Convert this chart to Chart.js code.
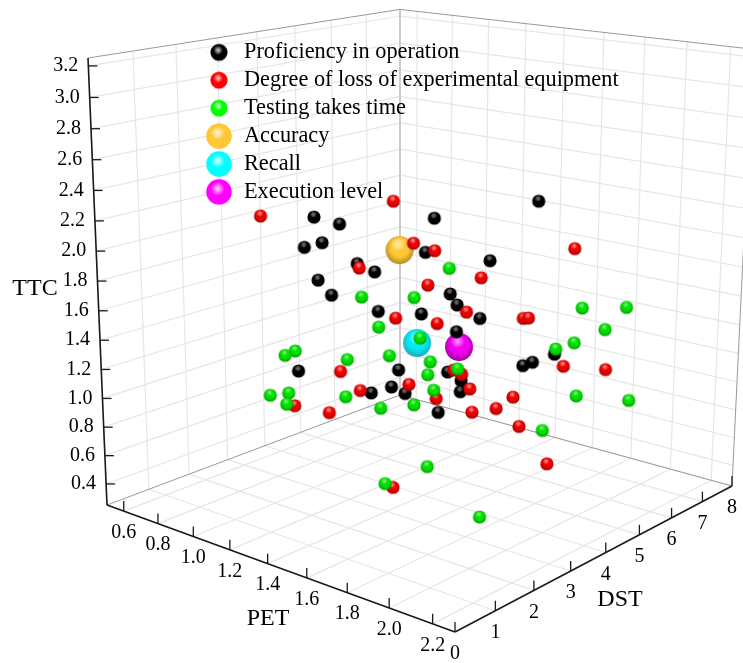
<!DOCTYPE html>
<html>
<head>
<meta charset="utf-8">
<title>3D scatter</title>
<script src="https://cdn.jsdelivr.net/npm/chart.js@4"></script>
<style>
body { margin: 0; background: #fff; }
canvas { display: block; }
</style>
</head>
<body>
<canvas id="chart" width="743" height="663"></canvas>
<script>
// values
const petTicks = ['0.6', '0.8', '1.0', '1.2', '1.4', '1.6', '1.8', '2.0', '2.2'];
const dstTicks = ['0', '1', '2', '3', '4', '5', '6', '7', '8'];
const ttcTicks = ['0.4', '0.6', '0.8', '1.0', '1.2', '1.4', '1.6', '1.8', '2.0', '2.2', '2.4', '2.6', '2.8', '3.0', '3.2'];

const seriesNames = ['Proficiency in operation', 'Degree of loss of experimental equipment', 'Testing takes time', 'Accuracy', 'Recall', 'Execution level'];

const proficiencyPet = [1.17, 1.22, 1.01, 1.19, 1.47, 1.82, 1.35, 1.57, 1.29, 1.32, 1.04, 1.07, 1.12, 1.46, 1.66, 1.33, 1.70, 1.53, 0.99, 1.19, 1.23, 1.30, 1.36, 1.56, 1.61, 1.57, 1.42, 1.67, 1.69, 1.73];
const proficiencyDst = [2.3, 2.7, 2.8, 2.4, 3.9, 4.8, 4.3, 4.9, 2.8, 3.1, 3.0, 3.2, 4.2, 4.4, 3.5, 4.3, 3.9, 4.2, 2.7, 4.4, 4.0, 3.1, 3.7, 3.8, 3.9, 4.1, 4.3, 5.6, 5.2, 5.9];
const proficiencyTtc = [2.24, 2.18, 1.96, 2.07, 2.20, 2.34, 1.91, 1.87, 1.93, 1.86, 1.73, 1.62, 1.44, 1.65, 1.71, 1.48, 1.60, 1.43, 1.11, 1.03, 0.96, 1.03, 0.99, 1.20, 1.15, 1.04, 0.82, 1.14, 1.16, 1.19];

const lossPet = [0.86, 1.26, 1.25, 1.51, 1.93, 1.28, 1.58, 1.42, 1.67, 1.33, 1.58, 1.79, 1.68, 1.26, 1.08, 1.14, 1.24, 1.61, 1.54, 1.38, 1.54, 1.51, 1.78, 1.63, 1.75, 1.71, 1.84, 1.95, 2.00, 1.53];
const lossDst = [2.4, 3.9, 4.5, 3.7, 5.2, 2.9, 4.6, 4.0, 3.7, 3.6, 3.4, 4.6, 5.4, 2.5, 3.9, 1.9, 2.3, 3.7, 4.3, 3.7, 3.6, 4.7, 4.4, 4.1, 4.1, 5.0, 5.5, 6.1, 4.1, 2.5];
const lossTtc = [2.16, 2.26, 1.93, 2.01, 2.03, 1.89, 1.78, 1.73, 1.65, 1.51, 1.57, 1.57, 1.47, 1.22, 0.89, 1.00, 0.95, 1.24, 1.13, 1.06, 1.03, 0.98, 1.05, 0.92, 0.99, 0.76, 1.18, 1.14, 0.71, 0.53];

const testingPet = [1.62, 1.33, 1.11, 1.36, 1.40, 1.06, 1.07, 1.05, 1.16, 0.94, 0.89, 1.04, 1.14, 1.29, 1.34, 1.44, 1.61, 1.49, 1.33, 1.94, 1.95, 1.88, 1.97, 1.85, 1.97, 1.99, 1.71, 1.47, 1.74, 2.10];
const testingDst = [3.5, 4.1, 3.8, 3.0, 3.9, 2.3, 2.0, 3.7, 4.3, 2.2, 2.9, 3.7, 1.7, 3.4, 4.5, 3.9, 3.8, 3.8, 4.1, 5.4, 6.7, 6.5, 5.0, 5.2, 5.1, 6.6, 5.7, 2.6, 2.3, 1.7];
const testingTtc = [1.94, 1.61, 1.57, 1.51, 1.37, 1.31, 1.31, 1.12, 1.13, 0.97, 0.90, 0.85, 1.03, 0.89, 1.13, 1.13, 1.24, 1.05, 0.86, 1.62, 1.52, 1.36, 1.43, 1.33, 1.06, 0.89, 0.66, 0.52, 0.78, 0.67];

const accuracyPet = [1.37], accuracyDst = [3.5], accuracyTtc = [1.99];
const recallPet = [1.27], recallDst = [4.5], recallTtc = [1.24];
const executionPet = [1.58], executionDst = [4.0], executionTtc = [1.36];

const PET_MIN = 0.5, PET_MAX = 2.3, DST_MAX = 8, TTC_MIN = 0.25, TTC_MAX = 3.25;
const FONT = '"Liberation Serif", "Times New Roman", serif';

// camera fitted to the corners of the box
function project(pet, dst, ttc) {
    const u = (pet - PET_MIN) / (PET_MAX - PET_MIN);
    const v = dst / DST_MAX;
    const w = (ttc - TTC_MIN) / (TTC_MAX - TTC_MIN);
    const d = 1 - 0.14246 * u + 0.16705 * v - 0.0609 * w;
    return {
        x: (107 + 283.18 * u + 359.82 * v - 24.36 * w) / d,
        y: (505 + 36.97 * u - 44.02 * v - 450.53 * w) / d
    };
}

function toPoints(pet, dst, ttc) {
    return pet.map((p, i) => project(p, dst[i], ttc[i]));
}

function ball(r, base, dark, shine, spotY, spotSize) {
    const size = Math.ceil(r * 2) + 2;
    const c = document.createElement('canvas');
    c.width = c.height = size;
    const g = c.getContext('2d');
    const m = size / 2;
    const body = g.createRadialGradient(m, m - r * 0.3, r * 0.1, m, m - r * 0.1, r * 1.1);
    body.addColorStop(0, base);
    body.addColorStop(0.55, base);
    body.addColorStop(1, dark);
    g.fillStyle = body;
    g.beginPath();
    g.arc(m, m, r, 0, Math.PI * 2);
    g.fill();
    const sx = m - r * 0.1, sy = m - r * spotY;
    const spot = g.createRadialGradient(sx, sy, 0, sx, sy, r * spotSize);
    spot.addColorStop(0, shine);
    spot.addColorStop(1, 'rgba(255,255,255,0)');
    g.fillStyle = spot;
    g.beginPath();
    g.arc(m, m, r, 0, Math.PI * 2);
    g.fill();
    return c;
}

const markColors = [
    ['#000000', '#000000', 'rgba(170,170,170,0.7)'],
    ['#ee0000', '#a00000', 'rgba(255,215,215,0.7)'],
    ['#00e000', '#009c00', 'rgba(215,255,215,0.6)'],
    ['#ffc832', '#b08a28', 'rgba(255,245,215,0.8)'],
    ['#00ecf4', '#20a8bc', 'rgba(225,255,255,0.7)'],
    ['#f000f0', '#a000a0', 'rgba(255,215,255,0.7)']
];
const legendColors = ['#000000', '#ff0000', '#00ff00', '#ffc832', '#00ffff', '#ff00ff'];
const markRadius = [6.6, 6.6, 6.6, 14, 14, 14];
const legendRadius = [8.6, 8.6, 8.6, 12.8, 12.8, 12.8];
const markSprites = markColors.map((c, i) => ball(markRadius[i], c[0], c[1], c[2], 0.4, 0.5));
const legendSprites = legendColors.map((c, i) => ball(legendRadius[i], c, c, 'rgba(255,255,255,0.85)', 0.25, 0.55));

function makeDataset(i, points, order) {
    return {
        label: seriesNames[i],
        data: points,
        pointStyle: markSprites[i],
        pointRadius: markRadius[i],
        order: order,
        clip: false
    };
}

function line(ctx, a, b) {
    ctx.beginPath();
    ctx.moveTo(a.x, a.y);
    ctx.lineTo(b.x, b.y);
    ctx.stroke();
}

// the library has no 3D axes, so the box is drawn from the same scales as the marks
const boxPlugin = {
    id: 'box',
    afterLayout(chart) {
        const legend = chart.legend;
        const pad = legend.options.labels.padding;
        legend.left = 205.15 - pad;
        legend.top = 41.2 - pad;
        legend.right = legend.left + 500;
        legend.bottom = legend.top + 300;
        legend.adjustHitBoxes();
    },
    beforeDraw(chart) {
        const ctx = chart.ctx;
        const sx = chart.scales.x, sy = chart.scales.y;
        const at = (pet, dst, ttc) => {
            const p = project(pet, dst, ttc);
            return { x: sx.getPixelForValue(p.x), y: sy.getPixelForValue(p.y) };
        };
        ctx.save();
        ctx.lineCap = 'butt';

        // grid on the floor and the two back walls
        ctx.strokeStyle = '#e6e6e6';
        ctx.lineWidth = 1.2;
        petTicks.forEach(t => {
            const p = +t;
            line(ctx, at(p, 0, TTC_MIN), at(p, DST_MAX, TTC_MIN));
            line(ctx, at(p, DST_MAX, TTC_MIN), at(p, DST_MAX, TTC_MAX));
        });
        dstTicks.forEach(t => {
            const d = +t;
            line(ctx, at(PET_MIN, d, TTC_MIN), at(PET_MAX, d, TTC_MIN));
            line(ctx, at(PET_MIN, d, TTC_MIN), at(PET_MIN, d, TTC_MAX));
        });
        ttcTicks.forEach(t => {
            const h = +t;
            line(ctx, at(PET_MIN, 0, h), at(PET_MIN, DST_MAX, h));
            line(ctx, at(PET_MIN, DST_MAX, h), at(PET_MAX, DST_MAX, h));
        });

        // back edges of the box
        ctx.strokeStyle = '#cccccc';
        ctx.lineWidth = 2;
        line(ctx, at(PET_MIN, DST_MAX, TTC_MIN), at(PET_MIN, DST_MAX, TTC_MAX));
        ctx.strokeStyle = '#999999';
        ctx.lineWidth = 1;
        line(ctx, at(PET_MIN, 0, TTC_MIN), at(PET_MIN, DST_MAX, TTC_MIN));
        line(ctx, at(PET_MIN, DST_MAX, TTC_MIN), at(PET_MAX, DST_MAX, TTC_MIN));
        line(ctx, at(PET_MIN, 0, TTC_MAX), at(PET_MIN, DST_MAX, TTC_MAX));
        line(ctx, at(PET_MIN, DST_MAX, TTC_MAX), at(PET_MAX, DST_MAX, TTC_MAX));
        line(ctx, at(PET_MAX, DST_MAX, TTC_MIN), at(PET_MAX, DST_MAX, TTC_MAX));

        // the three axes
        ctx.strokeStyle = '#1a1a1a';
        ctx.lineWidth = 1.6;
        line(ctx, at(PET_MIN, 0, TTC_MIN), at(PET_MIN, 0, TTC_MAX));
        line(ctx, at(PET_MIN, 0, TTC_MIN), at(PET_MAX, 0, TTC_MIN));
        line(ctx, at(PET_MAX, 0, TTC_MIN), at(PET_MAX, DST_MAX, TTC_MIN));

        ctx.fillStyle = '#000';
        ctx.font = '20px ' + FONT;
        ctx.textBaseline = 'middle';
        ctx.lineWidth = 1.3;

        ctx.textAlign = 'center';
        petTicks.forEach(t => {
            const a = at(+t, 0, TTC_MIN);
            line(ctx, a, { x: a.x, y: a.y - 10 });
            ctx.fillText(t, a.x, a.y + 21.5);
        });
        dstTicks.forEach(t => {
            const a = at(PET_MAX, +t, TTC_MIN);
            line(ctx, a, { x: a.x, y: a.y - 10 });
            ctx.fillText(t, a.x, a.y + 22);
        });
        ctx.textAlign = 'right';
        ttcTicks.forEach(t => {
            const a = at(PET_MIN, 0, +t);
            line(ctx, a, { x: a.x + 9, y: a.y });
            ctx.fillText(t, a.x - 10, a.y);
        });

        ctx.font = '24px ' + FONT;
        ctx.textAlign = 'center';
        ctx.fillText('TTC', 35, 289);
        ctx.fillText('PET', 268, 619);
        ctx.fillText('DST', 620, 600);
        ctx.restore();
    }
};

new Chart(document.getElementById('chart'), {
    type: 'scatter',
    data: {
        datasets: [
            makeDataset(0, toPoints(proficiencyPet, proficiencyDst, proficiencyTtc), 2),
            makeDataset(1, toPoints(lossPet, lossDst, lossTtc), 1),
            makeDataset(2, toPoints(testingPet, testingDst, testingTtc), 0),
            makeDataset(3, toPoints(accuracyPet, accuracyDst, accuracyTtc), 3),
            makeDataset(4, toPoints(recallPet, recallDst, recallTtc), 3),
            makeDataset(5, toPoints(executionPet, executionDst, executionTtc), 3)
        ]
    },
    options: {
        responsive: false,
        animation: false,
        layout: { padding: 0, autoPadding: false },
        scales: {
            x: { type: 'linear', display: false, min: 0, max: 743 },
            y: { type: 'linear', display: false, min: 0, max: 663, reverse: true }
        },
        plugins: {
            tooltip: { enabled: false },
            legend: {
                position: 'chartArea',
                align: 'start',
                labels: {
                    color: '#000',
                    font: { family: FONT, size: 22.3 },
                    usePointStyle: true,
                    pointStyleWidth: 27.7,
                    padding: 5.6,
                    generateLabels(chart) {
                        return Chart.defaults.plugins.legend.labels.generateLabels(chart).map(item => {
                            item.pointStyle = legendSprites[item.datasetIndex];
                            return item;
                        });
                    },
                    sort: (a, b) => a.datasetIndex - b.datasetIndex
                }
            }
        }
    },
    plugins: [boxPlugin]
});
</script>
</body>
</html>
